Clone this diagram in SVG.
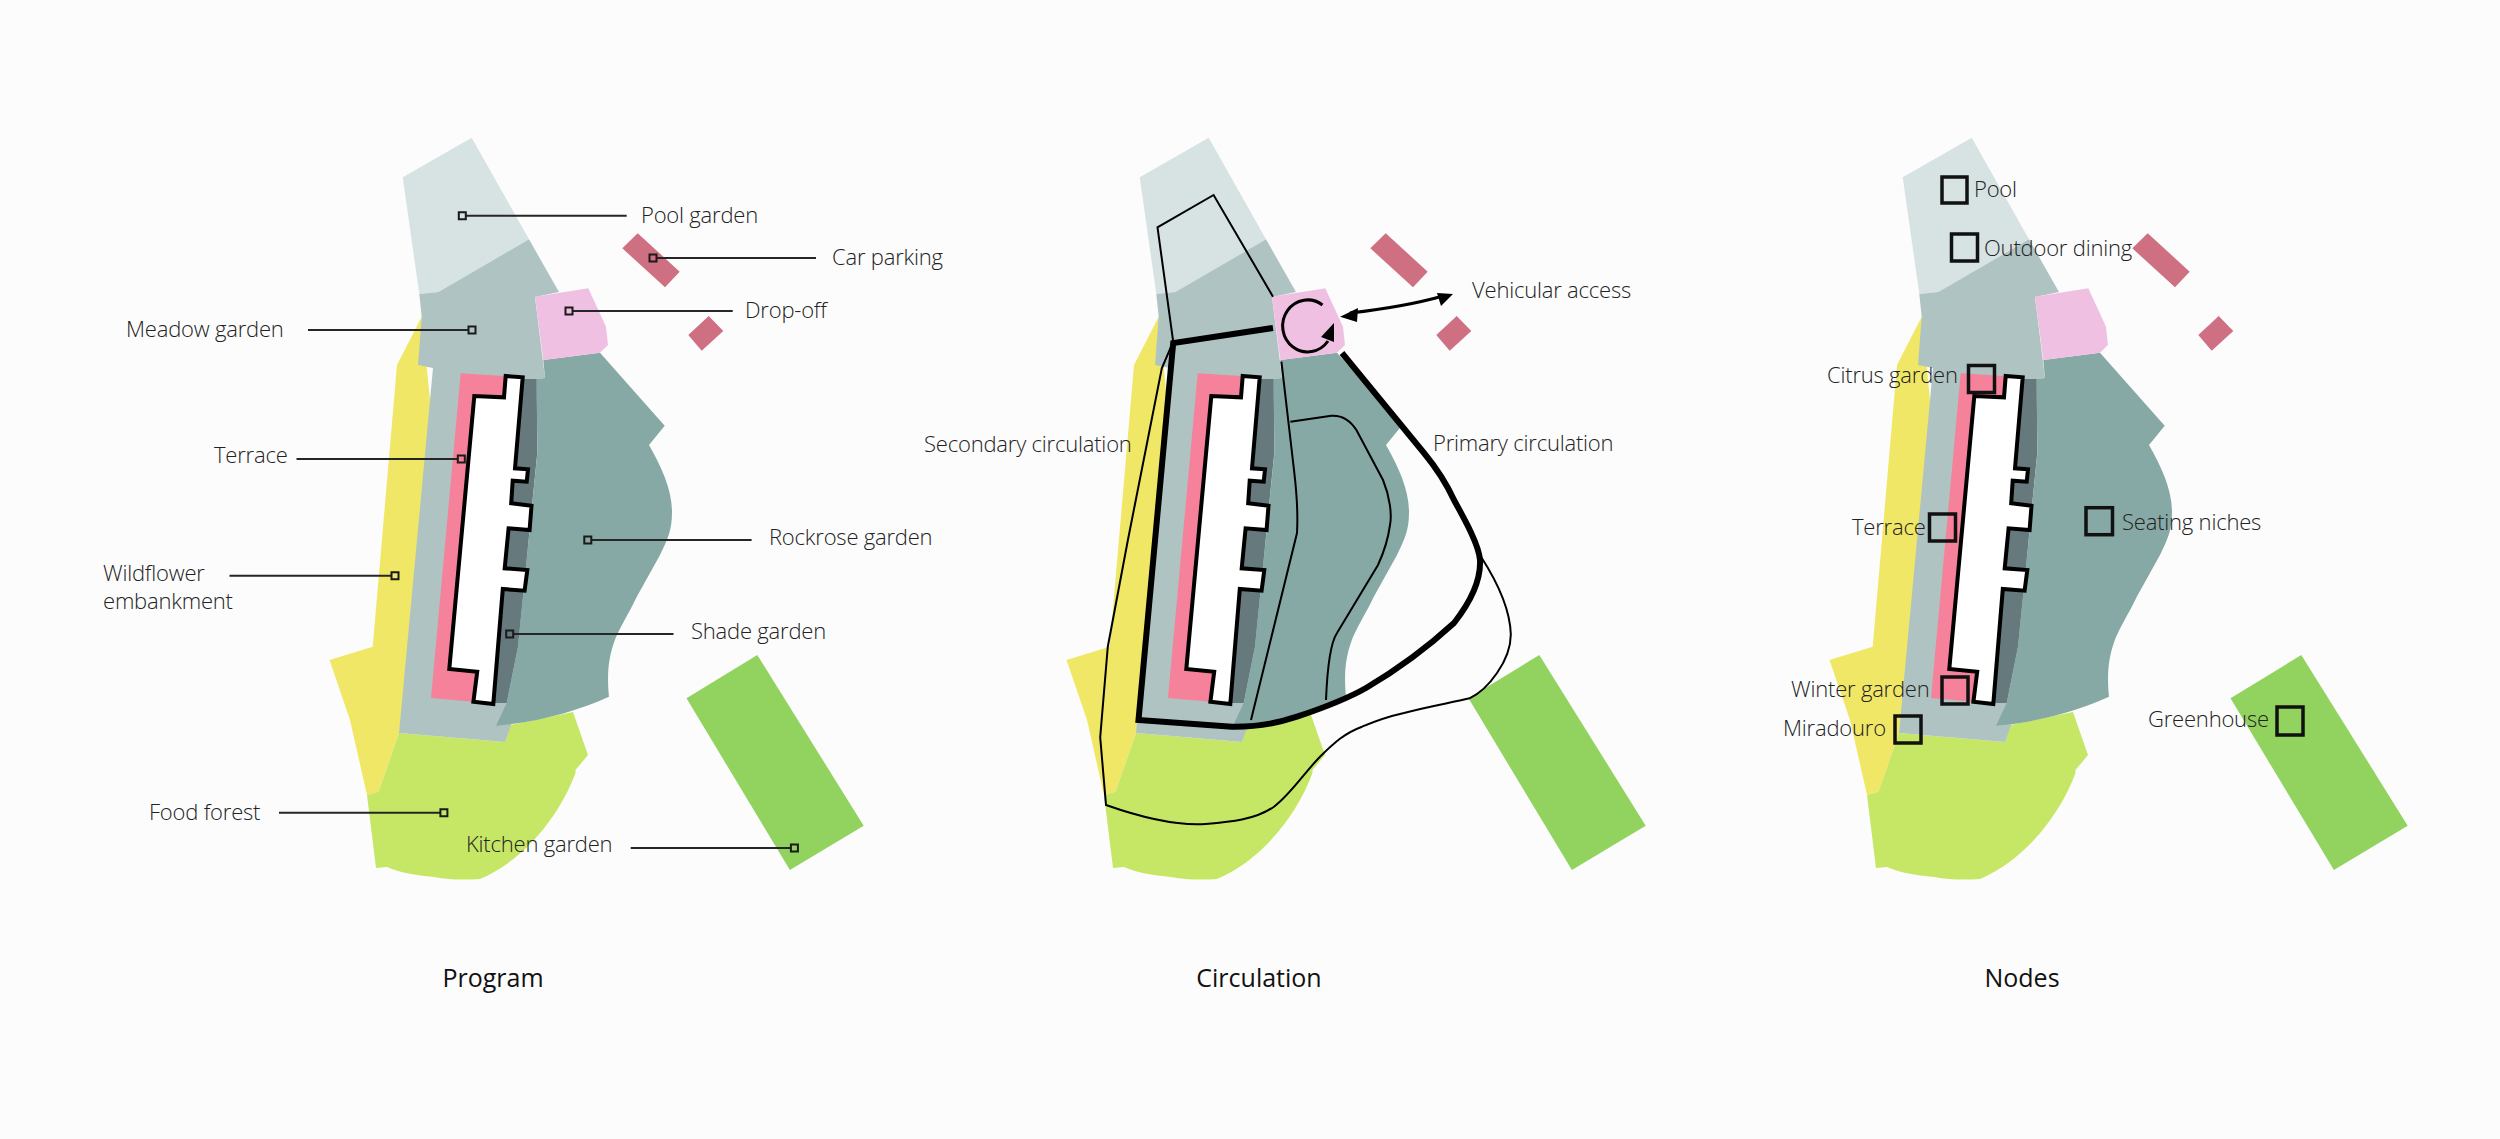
<svg xmlns="http://www.w3.org/2000/svg" xmlns:xlink="http://www.w3.org/1999/xlink" width="2500" height="1139" viewBox="0 0 2500 1139">
<style>
.lb{font-family:"Open Sans","Noto Sans","Liberation Sans",sans-serif;font-weight:300;font-size:22px;letter-spacing:-.2px;fill:#222}
.tt{font-family:"Open Sans","Noto Sans","Liberation Sans",sans-serif;font-weight:400;font-size:25px;fill:#111;text-anchor:middle}
.ld{stroke:#262626;stroke-width:2;fill:none}
.mk{stroke:#1a1a1a;stroke-width:2;fill:none}
.nd{stroke:#111;stroke-width:3.500;fill:none}
.thin{stroke:#000;stroke-width:2;fill:none;stroke-linejoin:miter}
.thick{stroke:#000;stroke-width:6;fill:none;stroke-linejoin:miter}
.park{fill:#cf7082}
.gh{fill:#92d35f}
</style>
<defs>
<g id="site">
<path fill="#f1e766" d="M421.700 316.700L397 365L372.700 646.700L329.500 660L350 720L367 795L378.500 791.700L399 733L440 500Z"/>
<path fill="#c6e766" d="M399 733L505 742L510 725L573 712L588 755L575.500 770L575.500 773C560 815 525 860 480 879C465 880 450 880 434 877C415 875 400 873 387 867L376 868L367 795L378.500 791.700Z"/>
<path fill="#d7e3e3" d="M471.700 137.700L402.700 177.300L419.300 294L438.300 292L529 239.300Z"/>
<path fill="#afc4c2" d="M419.300 294L438.300 292L529 239.300L559 292L535 297L545 378L537 379L520 700L505 742L399 733L433 368L418 365L421.700 316.700Z"/>
<path fill="#66797c" d="M523 379L536.700 379L537.300 453L529.600 530L518 646.700L506.700 703L493 703Z"/>
<path fill="#86a9a5" d="M600 352.700L664.700 425.700L649 445C662 468 672 490 672 512C672 530 668 538 660 555L636.800 596.700C628 615 618 630 613.800 643C608 660 607 676 609 696.700C580 710 540 722 496 725.700L506.700 703L518 646.700L529.600 530L537.300 453L536.700 379L545 378L543.300 360Z"/>
<path fill="#f5829a" d="M460.700 373.300L504 376L504 397.300L474.300 396L449.300 669L477.200 671.700L473.400 701.700L431 698Z"/>
<path fill="#fff" stroke="#000" stroke-width="4" stroke-linejoin="miter" d="M505.700 376L522.700 377.300L515 468.300L528 469.300L526.700 481.700L512.700 480.700L511.200 503.300L531.500 505.700L529.600 530L508.600 528.300L504.700 568.300L527.300 570L524.600 590.700L502.800 589L493.300 704L473.400 701.700L477.200 671.700L449.300 669L474.300 396L504 397.300Z"/>
<path fill="#f0c0e2" d="M535 296.700L588.300 288.300L606 326.700L608 345L600 352.700L543.300 360Z"/>
</g>
<g id="parking">
<path class="park" d="M637.700 233.300L679.700 271.700L665 287.300L622.300 248.300Z"/>
<path class="park" d="M708.700 316L723.300 331L701.700 350.700L688.300 335Z"/>
</g>
<path id="green" class="gh" d="M757.300 655L686.500 698.300L789.900 870L863.700 825.700Z"/>
</defs>
<rect width="2500" height="1139" fill="#fcfcfc"/>

<g id="panel-program">
<use xlink:href="#site" href="#site"/>
<use xlink:href="#parking" href="#parking"/>
<use xlink:href="#green" href="#green"/>
</g>
<g id="panel-circulation">
<use xlink:href="#site" href="#site" transform="translate(737 0)"/>
<use xlink:href="#parking" href="#parking" transform="translate(748 0)"/>
<use xlink:href="#green" href="#green" transform="translate(782 0)"/>
</g>
<g id="panel-nodes">
<use xlink:href="#site" href="#site" transform="translate(1500 0)"/>
<use xlink:href="#parking" href="#parking" transform="translate(1510 0)"/>
<use xlink:href="#green" href="#green" transform="translate(1544 0)"/>
</g>

<g id="connectors">
<path class="ld" d="M466 215.700H626.700M657 258H816M572.500 311H732.700M308 330H468.500M296.500 459H458M229.500 575.700H391.500M591.500 540H751.600M513.500 634H673.500M279 812.700H440M630.700 848H791"/>
<path class="thin" d="M1273 296.700L1213.600 195L1157.500 227.300L1173.200 341.700L1161.800 368.300L1127.900 540L1107.800 646.700L1100.200 737.300L1106 805C1140 817 1175 826 1205.400 824C1230 822 1255 820 1274 806.700C1290 795 1305 772 1320 756.700C1335 742 1345 733 1362 726.700C1380 719 1395 715 1404 713C1430 706 1450 703 1469.500 698.300C1488 690 1511 660 1510.800 634C1510 610 1498 583 1481 556.700"/>
<path class="thin" d="M1281.400 361.700L1294 470C1297 495 1298 515 1297 533L1251 720"/>
<path class="thin" d="M1290.400 421.700L1331.400 415.700C1342 415 1350 420 1356.400 430L1383 480C1390 497 1392 515 1390 525C1388 540 1384 552 1378 565L1337 633C1329 645 1327 675 1326 700"/>
<path class="thick" d="M1273 328L1173.200 343L1138.500 720L1232 726.700C1255 727 1275 724 1297 716.700C1320 709 1345 700 1366 688C1400 668 1430 645 1454 623C1472 600 1481 580 1480 560C1479 545 1465 520 1454 500C1448 487 1438 470 1424 453L1342 353"/>
<path class="thin" d="M1322.500 305A25 26 0 1 0 1328 341" style="stroke-width:3"/>
<path fill="#000" d="M1334 323L1321 337L1334 342Z"/>
<path d="M1350 313C1385 309 1415 304 1443 296" fill="none" stroke="#000" stroke-width="3"/>
<path fill="#000" d="M1340 316.700L1358 308L1357 322Z"/>
<path fill="#000" d="M1453 294L1437 293L1441 306Z"/>
<path class="mk" d="M458.800 212.200h7v7h-7zM649.500 254.500h7v7h-7zM565.500 307.500h7v7h-7zM468.500 326.500h7v7h-7zM457.800 455.500h7v7h-7zM391.500 572.200h7v7h-7zM584.300 536.500h7v7h-7zM506.200 630.500h7v7h-7zM440.400 809.200h7v7h-7zM790.900 844.500h7v7h-7z"/>
</g>

<g id="nodes-markers">
<rect class="nd" x="1942" y="177" width="25" height="26"/>
<rect class="nd" x="1951.500" y="234" width="26" height="27"/>
<rect class="nd" x="1968.500" y="365.500" width="26" height="27"/>
<rect class="nd" x="1929.500" y="514" width="26" height="27"/>
<rect class="nd" x="2086" y="507.700" width="26.500" height="27"/>
<rect class="nd" x="1942" y="677" width="26" height="27"/>
<rect class="nd" x="1895" y="716" width="26" height="27"/>
<rect class="nd" x="2277" y="707" width="26" height="28"/>
</g>

<g id="labels-program">
<text class="lb" x="641" y="223">Pool garden</text>
<text class="lb" x="832" y="265">Car parking</text>
<text class="lb" x="745" y="318">Drop-off</text>
<text class="lb" x="126" y="337">Meadow garden</text>
<text class="lb" x="214" y="463">Terrace</text>
<text class="lb" x="103" y="581">Wildflower</text>
<text class="lb" x="103" y="609">embankment</text>
<text class="lb" x="769" y="545">Rockrose garden</text>
<text class="lb" x="691" y="639">Shade garden</text>
<text class="lb" x="149" y="820">Food forest</text>
<text class="lb" x="466" y="852">Kitchen garden</text>
</g>
<g id="labels-circulation">
<text class="lb" x="1472" y="298">Vehicular access</text>
<text class="lb" x="1433" y="451">Primary circulation</text>
<text class="lb" x="924" y="452">Secondary circulation</text>
</g>
<g id="labels-nodes">
<text class="lb" x="1974" y="197">Pool</text>
<text class="lb" x="1984" y="256">Outdoor dining</text>
<text class="lb" x="1827" y="383">Citrus garden</text>
<text class="lb" x="1852" y="535">Terrace</text>
<text class="lb" x="2122" y="530">Seating niches</text>
<text class="lb" x="1791" y="697">Winter garden</text>
<text class="lb" x="1783" y="736">Miradouro</text>
<text class="lb" x="2148" y="727">Greenhouse</text>
</g>
<g id="titles">
<text class="tt" x="493" y="987">Program</text>
<text class="tt" x="1259" y="987">Circulation</text>
<text class="tt" x="2022" y="987">Nodes</text>
</g>
</svg>
